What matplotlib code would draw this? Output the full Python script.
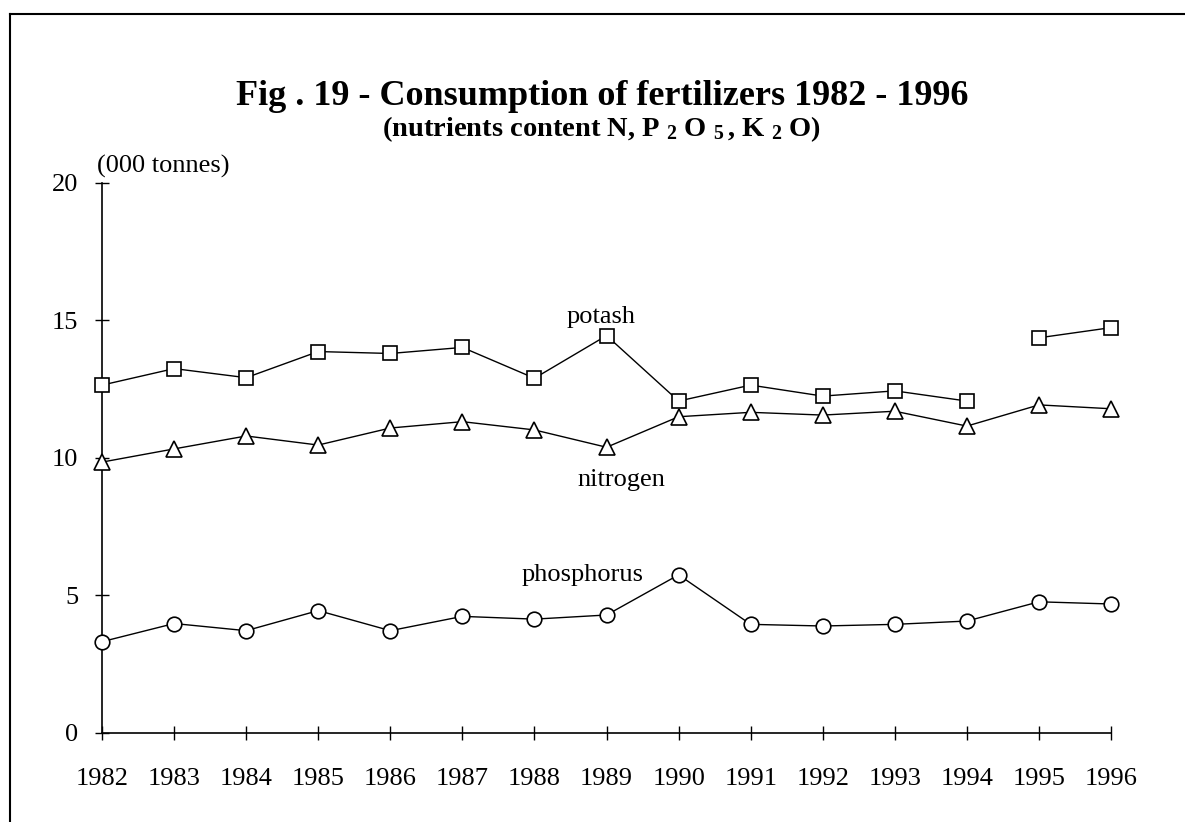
import numpy as np
import matplotlib
matplotlib.use("Agg")
import matplotlib.pyplot as plt
from matplotlib.lines import Line2D

plt.rcParams['font.family'] = ['Liberation Serif', 'DejaVu Serif']
plt.rcParams['mathtext.fontset'] = 'custom'
plt.rcParams['mathtext.rm'] = 'Liberation Serif:bold'
plt.rcParams['mathtext.it'] = 'Liberation Serif:bold'
plt.rcParams['mathtext.bf'] = 'Liberation Serif:bold'

years = np.arange(1982, 1997)
potash = [12.65, 13.25, 12.92, 13.87, 13.8, 14.02, 12.9, 14.45,
          12.07, 12.65, 12.25, 12.44, 12.07, 14.37, 14.74]
nitrogen = [9.85, 10.33, 10.8, 10.47, 11.09, 11.32, 11.02, 10.39,
            11.5, 11.66, 11.56, 11.7, 11.16, 11.93, 11.79]
phosphorus = [3.32, 3.98, 3.72, 4.45, 3.72, 4.24, 4.14, 4.29,
              5.75, 3.95, 3.89, 3.95, 4.07, 4.77, 4.69]

fig = plt.figure(figsize=(11.85, 8.22), dpi=100)
ax = fig.add_axes([0.0861, 0.1083, 0.8515, 0.6691])

mk = dict(color='black', lw=1.0, mfc='white', mec='black', mew=1.2, clip_on=False, zorder=3)

# potash line is broken between 1994 and 1995 in the original
ax.plot(years[:13], potash[:13], marker='s', ms=10.5, **mk)
ax.plot(years[13:], potash[13:], marker='s', ms=10.5, **mk)
ax.plot(years, nitrogen, marker='^', ms=11, **mk)
ax.plot(years, phosphorus, marker='o', ms=10.5, **mk)

ax.set_xlim(1982, 1996)
ax.set_ylim(0, 20)
ax.set_xticks(years)
ax.set_yticks([0, 5, 10, 15, 20])
for s in ['top', 'right']:
    ax.spines[s].set_visible(False)
ax.spines['left'].set_linewidth(1.2)
ax.spines['bottom'].set_linewidth(1.2)
ax.tick_params(axis='both', direction='inout', length=10, width=1.0, colors='black')
ax.tick_params(axis='x', labelsize=19, pad=20)
ax.tick_params(axis='y', labelsize=19, pad=12)

ax.text(1988.93, 15.14, 'potash', fontsize=19, ha='center', va='center')
ax.text(1989.2, 9.2, 'nitrogen', fontsize=19, ha='center', va='center')
ax.text(1988.66, 5.75, 'phosphorus', fontsize=19, ha='center', va='center')

fig.text(0.0818, 0.797, '(000 tonnes)', fontsize=19, ha='left', va='center')
fig.text(0.508, 0.882, 'Fig . 19 - Consumption of fertilizers 1982 - 1996',
         fontsize=26, fontweight='bold', ha='center', va='center')
fig.text(0.508, 0.843, r'(nutrients content N, P $_{2}\;$O $_{5}\,$, K $_{2}\;$O)',
         fontsize=20.5, fontweight='bold', ha='center', va='center')

# scanned page frame (left and top edges)
fig.add_artist(Line2D([0.0085, 0.0085], [0.0, 0.983], color='black', lw=1.5))
fig.add_artist(Line2D([0.0085, 1.0], [0.983, 0.983], color='black', lw=1.5))

fig.savefig('out.png', dpi=100)
